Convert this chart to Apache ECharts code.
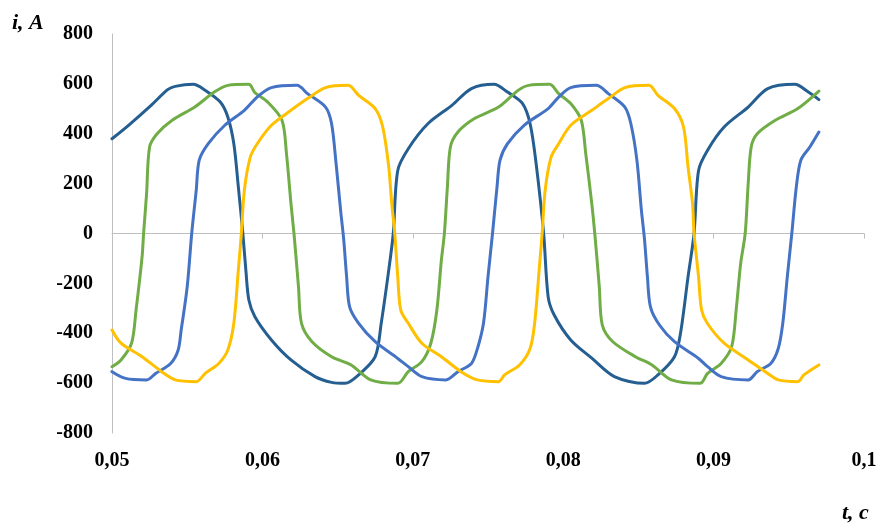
<!DOCTYPE html>
<html>
<head>
<meta charset="utf-8">
<script src="https://cdn.jsdelivr.net/npm/echarts@6/dist/echarts.min.js"></script>
<style>
  html, body { margin: 0; padding: 0; background: #fff; }
  #chart { width: 881px; height: 528px; }
</style>
</head>
<body>
<div id="chart"></div>
<script>
// axis ticks
var xTicks = [0.05, 0.06, 0.07, 0.08, 0.09, 0.1];
var yTicks = [-800, -600, -400, -200, 0, 200, 400, 600, 800];

// currents: [t, i]
var darkBlue = [
  [0.0500, 380], [0.0511, 434], [0.0526, 514], [0.0537, 577], [0.0542, 590], [0.0554, 598],
  [0.0562, 574], [0.0572, 527], [0.0577, 467], [0.0581, 360], [0.0584, 187], [0.0587, 0],
  [0.0589, -147], [0.0591, -267], [0.0595, -334], [0.0606, -427], [0.0619, -507], [0.0635, -574],
  [0.0646, -597], [0.0655, -601], [0.0664, -567], [0.0675, -494], [0.0679, -360], [0.0684, -147],
  [0.0687, 0], [0.0690, 253], [0.0697, 340], [0.0710, 440], [0.0726, 514], [0.0739, 581],
  [0.0754, 598], [0.0763, 567], [0.0773, 521], [0.0778, 440], [0.0782, 280], [0.0787, 0],
  [0.0790, -254], [0.0794, -327], [0.0805, -427], [0.0819, -500], [0.0834, -574], [0.0854, -601],
  [0.0863, -567], [0.0874, -494], [0.0878, -400], [0.0883, -174], [0.0887, 0], [0.0890, 253],
  [0.0896, 334], [0.0907, 427], [0.0923, 507], [0.0936, 581], [0.0954, 598], [0.0963, 567],
  [0.0970, 537]
];
var green = [
  [0.0500, -534], [0.0506, -507], [0.0513, -440], [0.0516, -307], [0.0520, -94], [0.0521, 0],
  [0.0523, 160], [0.0525, 347], [0.0530, 400], [0.0540, 454], [0.0555, 507], [0.0568, 567],
  [0.0577, 594], [0.0591, 598], [0.0595, 565], [0.0603, 530], [0.0613, 454], [0.0616, 320],
  [0.0619, 120], [0.0621, 0], [0.0624, -214], [0.0626, -360], [0.0633, -434], [0.0646, -494],
  [0.0659, -527], [0.0672, -587], [0.0690, -601], [0.0697, -554], [0.0706, -514], [0.0712, -440],
  [0.0716, -307], [0.0719, -107], [0.0721, 0], [0.0723, 187], [0.0725, 347], [0.0730, 407],
  [0.0741, 461], [0.0757, 507], [0.0770, 574], [0.0777, 594], [0.0791, 598], [0.0797, 561],
  [0.0805, 521], [0.0812, 454], [0.0815, 320], [0.0819, 120], [0.0821, 0], [0.0824, -214],
  [0.0826, -367], [0.0833, -434], [0.0848, -494], [0.0859, -527], [0.0872, -587], [0.0891, -601],
  [0.0896, -561], [0.0905, -521], [0.0912, -454], [0.0915, -307], [0.0918, -120], [0.0921, 0],
  [0.0923, 200], [0.0925, 347], [0.0929, 400], [0.0941, 454], [0.0956, 501], [0.0970, 571]
];
var lightBlue = [
  [0.0500, -554], [0.0509, -581], [0.0523, -587], [0.0529, -561], [0.0539, -521], [0.0544, -467],
  [0.0546, -387], [0.0550, -214], [0.0553, 0], [0.0556, 173], [0.0558, 294], [0.0564, 360],
  [0.0575, 434], [0.0588, 494], [0.0597, 550], [0.0606, 585], [0.0623, 594], [0.0630, 561],
  [0.0642, 507], [0.0646, 440], [0.0649, 280], [0.0652, 93], [0.0654, -20], [0.0656, -174],
  [0.0658, -294], [0.0664, -360], [0.0675, -434], [0.0690, -501], [0.0697, -534], [0.0706, -574],
  [0.0722, -587], [0.0730, -554], [0.0739, -521], [0.0743, -461], [0.0747, -360], [0.0750, -174],
  [0.0753, 0], [0.0756, 187], [0.0758, 294], [0.0763, 360], [0.0774, 434], [0.0790, 501],
  [0.0797, 547], [0.0805, 585], [0.0822, 594], [0.0830, 561], [0.0841, 507], [0.0845, 440],
  [0.0849, 294], [0.0852, 93], [0.0854, -20], [0.0856, -174], [0.0858, -294], [0.0864, -367],
  [0.0874, -434], [0.0890, -501], [0.0896, -534], [0.0905, -574], [0.0923, -587], [0.0929, -554],
  [0.0938, -521], [0.0943, -461], [0.0946, -360], [0.0949, -174], [0.0952, 0], [0.0955, 187],
  [0.0958, 294], [0.0964, 347], [0.0970, 407]
];
var yellow = [
  [0.0500, -387], [0.0506, -440], [0.0520, -494], [0.0533, -554], [0.0542, -587], [0.0556, -594],
  [0.0562, -561], [0.0571, -521], [0.0577, -467], [0.0581, -360], [0.0584, -147], [0.0586, 0],
  [0.0588, 173], [0.0592, 307], [0.0597, 364], [0.0606, 434], [0.0619, 494], [0.0630, 541],
  [0.0642, 585], [0.0657, 594], [0.0664, 554], [0.0675, 501], [0.0680, 427], [0.0684, 267],
  [0.0686, 120], [0.0688, 0], [0.0690, -174], [0.0692, -307], [0.0697, -360], [0.0706, -440],
  [0.0719, -494], [0.0732, -554], [0.0743, -587], [0.0757, -594], [0.0761, -567], [0.0771, -527],
  [0.0778, -461], [0.0781, -360], [0.0784, -147], [0.0786, 0], [0.0788, 173], [0.0792, 307],
  [0.0797, 360], [0.0805, 434], [0.0819, 494], [0.0830, 541], [0.0841, 585], [0.0857, 594],
  [0.0863, 554], [0.0874, 501], [0.0880, 427], [0.0883, 267], [0.0886, 120], [0.0887, 0],
  [0.0890, -174], [0.0892, -307], [0.0896, -362], [0.0907, -440], [0.0923, -507], [0.0936, -561],
  [0.0943, -587], [0.0956, -594], [0.0960, -567], [0.0970, -527]
];

var chart = echarts.init(document.getElementById('chart'));
var serif = '"Liberation Serif", "Times New Roman", serif';
var axisGray = '#bfbfbf';

function line(name, data, color) {
  return {
    name: name,
    type: 'line',
    data: data,
    showSymbol: false,
    smooth: 0.3,
    lineStyle: { color: color, width: 3, join: 'round', cap: 'round' },
    itemStyle: { color: color },
    z: 3
  };
}

var option = {
  animation: false,
  backgroundColor: '#fff',
  grid: { left: 112, right: 17, top: 34, bottom: 95 },
  xAxis: [
    {
      // labels at the bottom
      type: 'value',
      min: 0.05, max: 0.1, interval: 0.01,
      position: 'bottom',
      axisLine: { show: false, onZero: false },
      axisTick: { show: false },
      splitLine: { show: false },
      axisLabel: {
        margin: 18,
        color: '#000',
        fontFamily: serif,
        fontWeight: 'bold',
        fontSize: 20,
        formatter: function (v) {
          return String(+v.toFixed(2)).replace('.', ',');
        }
      }
    },
    {
      // axis line crossing at zero
      type: 'value',
      min: 0.05, max: 0.1, interval: 0.01,
      position: 'top',
      axisLine: { show: true, onZero: true, lineStyle: { color: axisGray, width: 1 } },
      axisTick: { show: true, inside: true, length: 5, lineStyle: { color: axisGray } },
      axisLabel: { show: false },
      splitLine: { show: false }
    }
  ],
  yAxis: {
    type: 'value',
    min: -800, max: 800, interval: 200,
    axisLine: { show: true, onZero: false, lineStyle: { color: axisGray, width: 1 } },
    axisTick: { show: false },
    splitLine: { show: false },
    axisLabel: {
      margin: 19,
      color: '#000',
      fontFamily: serif,
      fontWeight: 'bold',
      fontSize: 20
    }
  },
  graphic: [
    {
      type: 'text', left: 12, top: 12,
      style: { text: 'i, A', fill: '#000', font: 'italic bold 22px ' + serif }
    },
    {
      type: 'text', left: 842, top: 502,
      style: { text: 't, c', fill: '#000', font: 'italic bold 22px ' + serif }
    }
  ],
  series: [
    line('i1', darkBlue, '#255E91'),
    line('i2', green, '#70AD47'),
    line('i3', lightBlue, '#4472C4'),
    line('i4', yellow, '#FFC000')
  ]
};
chart.setOption(option);
</script>
</body>
</html>
